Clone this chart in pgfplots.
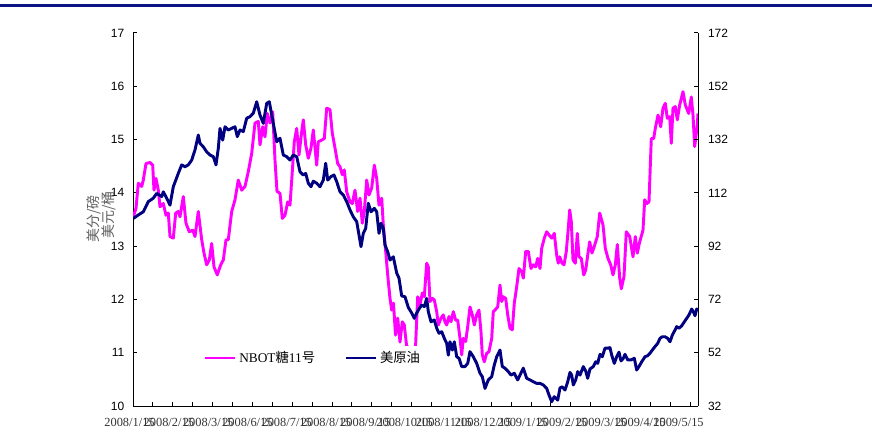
\documentclass[border=0pt]{standalone}
\usepackage{pgfplots}
\pgfplotsset{compat=1.18}
\usepackage{fontspec}
\setmainfont{Liberation Sans}
\newfontfamily\serifA{Liberation Serif}
\newfontfamily\cjk{Noto Sans CJK SC}
\definecolor{sugar}{RGB}{255,0,255}
\definecolor{oil}{RGB}{0,0,128}
\definecolor{topline}{RGB}{10,20,130}
\definecolor{labgray}{RGB}{96,96,96}

\pgfplotstableread{
x v
133.3 13.55
136 13.71
138.3 14.18
141.7 14.12
143.3 14.24
146 14.55
150 14.57
152.7 14.52
154 14.05
156 14.27
158.3 14.05
160 13.74
163.3 13.80
166 13.58
168.3 13.62
170 13.18
173.3 13.15
175.7 13.62
178.3 13.65
180 13.55
183.3 13.93
186 13.43
189.3 13.27
192.7 13.30
195 13.18
198.3 13.65
201.7 13.12
204 12.87
206.7 12.65
209.3 12.74
211.7 13.05
214 12.61
217.3 12.46
220.7 12.65
223.3 12.74
226 13.12
228.3 13.12
231.7 13.65
235 13.87
238.3 14.24
241.7 14.05
245 14.12
248.3 14.40
251.7 14.74
255 15.31
258.3 15.34
260 14.90
262.7 15.24
265 15.05
267.3 15.49
270 15.31
272.7 15.52
275 14.61
277 14.03
280 13.99
282.3 13.52
285 13.58
287.7 13.83
290 13.77
292.3 14.40
294.3 14.96
296.7 15.21
299 14.71
301.7 15.15
303.3 15.37
305.7 14.90
308.3 14.65
311 14.84
313.3 15.18
316.7 14.52
318.3 14.96
321.7 14.99
324.3 15.02
326.7 15.59
330 15.56
332.3 15.12
335 14.84
337.7 14.55
340 14.49
342.3 14.34
344.3 14.43
346.7 14.02
350 13.83
352.3 13.80
355 14.05
357.7 13.65
360 13.90
362.3 13.43
364.3 13.65
366.7 14.24
369 13.96
371.7 14.09
374.3 14.52
376.7 14.27
379 13.77
381.7 13.90
383.3 13.40
385.7 12.90
387.7 12.46
390 12.02
391.7 11.80
393.5 11.93
395.5 11.33
397.7 11.65
400 11.20
402.3 11.58
404.3 11.52
406.7 11.11
408.3 11.11
411 10.83
413 10.77
415.7 11.18
417.7 12.05
420 11.90
422.3 12.12
424.3 12.05
426.7 12.68
428.3 12.61
430 11.96
432.3 12.02
434.3 11.99
436.7 11.77
438.3 11.52
441 11.65
443.3 11.71
445 11.58
446.7 11.52
449 11.68
451 11.58
453.3 11.77
455.7 11.61
457.7 11.61
460 11.27
461.7 10.96
463.3 11.27
465.7 11.21
467.7 11.49
470 11.86
472.3 11.71
474.3 11.52
476.7 11.71
479 11.80
481 11.39
482.3 10.96
484.3 10.83
486.7 10.99
489 11.02
491.7 11.27
493.3 11.77
495 11.80
497.7 11.86
500 12.27
501.7 11.96
503.3 12.05
505.7 12.02
507.7 11.71
510 11.46
512.3 11.43
514.3 11.93
516.7 12.24
519 12.58
521.7 12.52
523.3 12.40
525.7 12.90
528.3 12.90
531 12.58
533.3 12.65
535.7 12.61
537.7 12.77
540 12.58
541.7 12.96
544.3 13.15
546.7 13.27
549 13.21
551.7 13.15
554.3 13.24
556.7 12.83
558.3 12.68
559.7 12.80
562 12.68
564 12.65
566.3 12.90
568 13.27
569.7 13.68
571.3 13.46
573 12.74
575.3 12.68
577.3 13.24
579 12.80
581.3 12.77
583.7 12.46
585.7 12.55
588 12.87
589.7 13.08
592 12.87
594.7 13.02
597.3 13.18
599.7 13.62
603 13.40
605.3 12.96
608 12.77
610.7 12.65
613 12.46
615.3 12.65
617.3 13.03
619.7 12.40
621.3 12.20
624 12.43
626.3 13.27
629.7 13.18
633 12.80
635.3 13.18
637.3 12.87
639.7 13.08
643 13.30
644.7 13.87
647 13.80
649 13.83
651.3 15.02
653.7 15.02
655.3 15.21
658 15.46
660.7 15.24
663 15.59
665.3 15.68
667.3 15.40
669.7 15.43
671.3 14.93
673 15.59
675.3 15.62
677.3 15.37
679.7 15.65
683 15.90
685.3 15.65
688.7 15.49
691.3 15.80
693 15.46
694.7 14.87
697.3 15.27
698 15.49
}\sugartab

\pgfplotstableread{
x r
133.3 102.4
138.3 103.7
143.3 104.9
148.3 108.7
153.3 110.0
156.7 111.8
161.7 110.6
163.3 112.4
166.7 110.0
170 107.4
173.3 114.3
178.3 119.3
181.7 122.5
185 121.8
188.3 122.5
191.7 124.3
195 128.1
198.3 133.7
200 130.6
203.3 129.3
206.7 127.4
210 126.2
213.3 125.6
216 122.5
218.3 128.7
220 136.2
222.7 131.8
225 136.8
228.3 135.6
231.7 136.2
235 136.8
237.3 133.1
240 135.6
243.3 135.0
246.7 140.0
250 140.6
253.3 141.9
256.7 146.2
260 141.2
263.3 138.1
266.7 145.6
269.3 146.2
272.7 139.3
276.7 131.2
280 132.5
283.3 126.2
286.7 125.6
290 124.3
293.3 126.2
296.7 125.6
300 119.9
303.3 118.7
305.7 119.3
308.3 115.6
311 114.3
313.3 116.4
316.7 115.6
320 114.3
323.3 116.8
325.7 123.1
327.7 116.8
331 118.1
334 118.7
336.7 116.2
340 112.4
343.3 111.2
346.7 108.7
350 105.6
353.3 103.0
356.7 101.2
359 96.2
361 91.8
363.3 96.8
365.7 98.7
368.3 108.1
371 104.9
374.3 106.2
376.7 104.9
379 96.8
381 100.6
383.3 98.7
385 92.4
387.7 89.9
390 86.8
393.3 88.0
396.7 81.9
399 80.0
401.7 73.3
405 73.0
408.3 69.0
411.7 66.9
414.3 64.9
416.7 66.9
419.5 68.7
421.7 69.9
424.3 69.3
426.7 72.4
428.3 67.4
431 63.6
434.3 64.3
436.7 61.2
439 59.3
441.7 59.9
444.3 57.4
446.7 55.5
448.3 51.1
450 56.1
452.3 53.0
454.3 56.1
456.7 50.5
459 49.9
461.7 46.8
465 46.8
467.7 48.0
470 52.4
473.3 50.5
476.7 48.0
480 44.3
482.3 43.0
485 38.6
488.3 41.8
491.7 43.0
494.3 47.4
496.7 50.5
500 53.0
502.3 46.8
505 46.2
508.3 44.9
511 43.6
514.3 44.3
517.7 41.8
520 43.6
523.3 46.2
526.7 42.4
530 41.8
533.3 41.1
536.7 40.5
540 40.5
543.3 39.9
546.7 38.6
549 36.1
551.7 33.6
554.3 35.5
557.7 34.2
560 38.8
562.3 39.2
565 38.0
567.7 41.1
570 44.6
571.7 43.6
573.3 39.9
575.7 41.8
577.7 44.9
580 43.6
583.3 46.8
585.7 45.1
587.7 42.4
590 45.9
593.3 46.8
595.7 48.6
597.7 48.0
600 51.4
602.3 50.5
605 53.7
607.7 53.7
610 53.9
611.7 51.1
614.3 48.0
616.7 50.5
619 52.2
621 48.9
623.3 49.9
625 51.4
627.7 49.3
631 49.3
634.3 49.9
636.7 45.5
639 46.8
641.7 48.6
645 50.5
647.7 50.9
650 51.8
652.3 53.0
655 54.3
657.7 55.5
660 57.4
662.3 58.0
665 58.0
667.7 57.4
670 56.1
672.3 58.6
675 60.5
676.7 61.8
679 61.2
681.7 62.1
684.3 63.6
686.7 64.9
689 66.2
691.7 68.4
693.3 67.4
695 65.9
696.7 68.4
698 68.0
}\oiltab

\pgfplotsset{
  commonax/.style={
    at={(99.75pt,23.25pt)}, anchor=south west,
    scale only axis, width=423.75pt, height=279.75pt,
    xmin=133, xmax=698,
    axis line style={black, line width=0.75pt},
    tick align=inside, major tick length=3pt,
    tick style={black, line width=0.75pt},
    /pgf/number format/assume math mode=true,
    ticklabel style={font=\fontsize{9}{10}\selectfont},
    line join=round,
  }
}

\begin{document}
\begin{tikzpicture}
\begin{scope}[x=0.75pt,y=0.75pt]
\path[use as bounding box] (0,0) rectangle (872,437);
\draw[topline, line width=1.9pt] (0,431.3) -- (872,431.3);
\end{scope}

\begin{axis}[commonax,
  ymin=10, ymax=17, ytick={10,11,...,17},
  axis x line*=bottom, axis y line*=left,
  xtick={152.9,172.8,...,691}, xticklabel={\mbox{}},
  yticklabel style={xshift=-3pt},
]
\addplot[sugar, line width=2.2pt] table[x=x, y=v] {\sugartab};
\end{axis}

\begin{axis}[commonax,
  ymin=32, ymax=172, ytick={32,52,...,172},
  axis x line=none, axis y line*=right,
  yticklabel style={xshift=4pt},
  legend columns=2,
  legend image code/.code={\draw[#1] (0pt,0pt) -- (22.5pt,0pt);},
  legend style={at={(0.120,0.1287)}, anchor=west, draw=none, fill=white,
    inner sep=2pt, font=\fontsize{10}{12}\selectfont,
    /tikz/every even column/.append style={column sep=20pt}},
]
\addlegendimage{sugar, line width=2.2pt}
\addlegendentry{{\serifA NBOT}{\cjk 糖}{\serifA 11}{\cjk 号}}
\addplot[oil, line width=2.2pt] table[x=x, y=r] {\oiltab};
\addlegendentry{{\cjk 美原油}}
\end{axis}

\begin{scope}[x=0.75pt,y=0.75pt]
\node[rotate=90, text=labgray, font=\cjk\fontsize{10.5}{12}\selectfont] at (94,218) {美分/磅};
\node[rotate=90, text=labgray, font=\cjk\fontsize{10.5}{12}\selectfont] at (109,222) {美元/桶};
\begin{scope}[every node/.style={font=\serifA\fontsize{9.3}{11}\selectfont, text=black!80, inner sep=0pt}]
\node at (129.5,15) {2008/1/15};
\node at (168.8,15) {2008/2/15};
\node at (208.1,15) {2008/3/15};
\node at (247.4,15) {2008/6/15};
\node at (286.7,15) {2008/7/15};
\node at (326.0,15) {2008/8/15};
\node at (365.3,15) {2008/9/15};
\node at (404.6,15) {2008/10/15};
\node at (443.9,15) {2008/11/15};
\node at (483.2,15) {2008/12/15};
\node at (522.5,15) {2009/1/15};
\node at (561.8,15) {2009/2/15};
\node at (601.1,15) {2009/3/15};
\node at (640.4,15) {2009/4/15};
\node at (678.5,15) {2009/5/15};
\end{scope}
\end{scope}
\end{tikzpicture}
\end{document}
